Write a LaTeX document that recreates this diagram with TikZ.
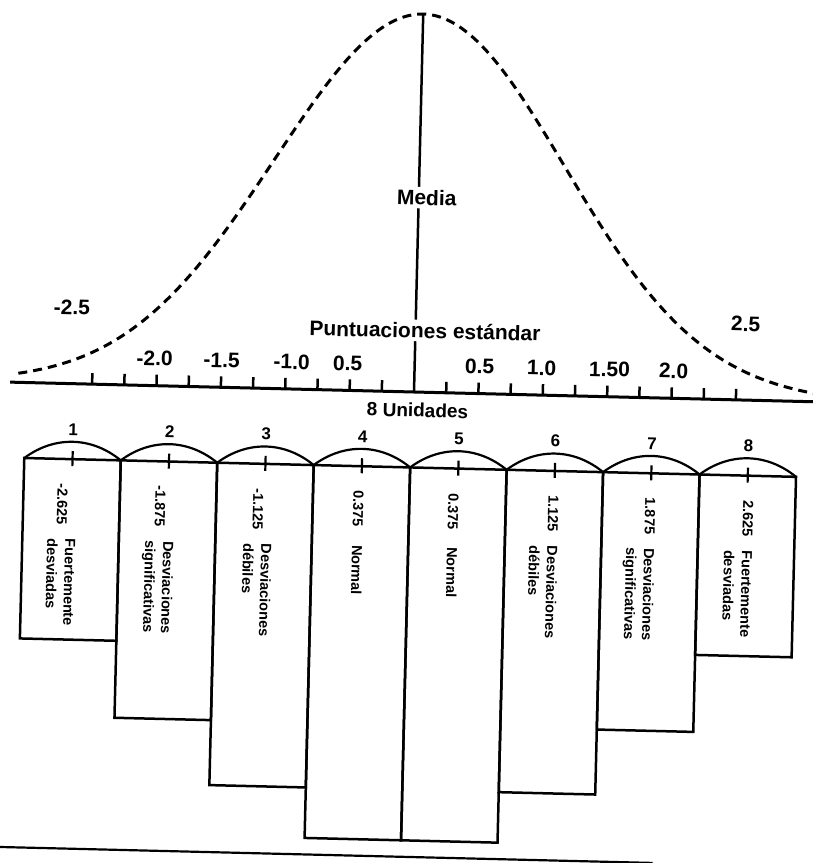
\documentclass[tikz,border=0pt]{standalone}
\usepackage{fontspec}
\setmainfont{Liberation Sans}
\usetikzlibrary{positioning}

\begin{document}
\begin{tikzpicture}[x=1pt, y=1pt]

\useasboundingbox (-414,-471) rectangle (399,392);
\tikzset{box/.style = {draw, line width=2.5pt, minimum width=96.5pt, inner sep=0pt, outer sep=0pt, anchor=north west}}
\tikzset{txt/.style = {rotate=-90, anchor=base west, inner sep=0pt, font=\fontsize{14.5}{18}\selectfont\bfseries}}
\tikzset{num/.style = {font=\fontsize{17}{20}\selectfont\bfseries, inner sep=0pt}}
\tikzset{lab/.style = {font=\fontsize{21}{25}\selectfont\bfseries, inner sep=1pt, anchor=base}}

\begin{scope}[rotate=-1.4, transform shape]
%curve
\coordinate (o) at (0,0);
\coordinate (top) at (0,378);
\coordinate (axl) at (-404,0);
\coordinate (axr) at (399,0);
\draw[line width=3pt, dash pattern=on 9pt off 6pt] plot[domain=-396:400, samples=120, smooth] (\x, {378*exp(-(\x/145)*(\x/145)/2)});
\draw[line width=2.5pt] (o) -- (top);
\node[lab, fill=white, inner sep=3pt] (media) at (8,187) {Media};
\node[lab, fill=white, inner sep=3pt] (punt) at (9.5,54) {Puntuaciones estándar};
\node[lab] (lo) at (-344,69) {-2.5};
\node[lab] (hi) at (330,69) {2.5};
%axis
\draw[line width=3pt] (axl) -- (axr);
\foreach \k in {1,...,10} {
  \draw[line width=2.5pt] (\k*32.2,0) -- ++(0,11);
  \draw[line width=2.5pt] (-\k*32.2,0) -- ++(0,11);
}
\node[lab] (s1) at (-260,20) {-2.0};
\node[lab] (s2) at (-193,20) {-1.5};
\node[lab] (s3) at (-123,20) {-1.0};
\node[lab] (s4) at (-67,20) {0.5};
\node[lab] (s5) at (65,20) {0.5};
\node[lab] (s6) at (127,20) {1.0};
\node[lab] (s7) at (195,20) {1.50};
\node[lab] (s8) at (259,20) {2.0};
\node[num, font=\fontsize{19}{22}\selectfont\bfseries, anchor=base] (units) at (4,-25) {8 Unidades};
%boxes
\node[box, minimum height=180.5pt] (b1) at (-388,-75.5) {};
\node[box, minimum height=257.5pt] (b2) at (-291.5,-75.5) {};
\node[box, minimum height=322.5pt] (b3) at (-195,-75.5) {};
\node[box, minimum height=373pt] (b4) at (-98.5,-75.5) {};
\node[box, minimum height=373pt] (b5) at (-2,-75.5) {};
\node[box, minimum height=322.5pt] (b6) at (94.5,-75.5) {};
\node[box, minimum height=257.5pt] (b7) at (191,-75.5) {};
\node[box, minimum height=180.5pt] (b8) at (287.5,-75.5) {};
\foreach \i in {1,...,8} {
  \draw[line width=2.2pt] (b\i.north west) to[bend left=38] (b\i.north east);
  \draw[line width=2.2pt] ([yshift=8pt]b\i.north) -- ([yshift=-7pt]b\i.north);
  \node[num, above=23.5pt of b\i.north] (n\i) {\i};
}
%box texts
\node[txt] (t1) at (-354,-100) {-2.625\hspace{14pt}\begin{tabular}{@{}l@{}}Fuertemente\\desviadas\end{tabular}};
\node[txt] (t2) at (-256,-100) {-1.875\hspace{14pt}\begin{tabular}{@{}l@{}}Desviaciones\\significativas\end{tabular}};
\node[txt] (t3) at (-158,-100) {-1.125\hspace{14pt}\begin{tabular}{@{}l@{}}Desviaciones\\débiles\end{tabular}};
\node[txt] (t4) at (-58,-100) {0.375\hspace{18pt}Normal};
\node[txt] (t5) at (37,-100) {0.375\hspace{18pt}Normal};
\node[txt] (t6) at (137,-100) {1.125\hspace{14pt}\begin{tabular}[t]{@{}l@{}}Desviaciones\\débiles\end{tabular}};
\node[txt] (t7) at (234,-100) {1.875\hspace{14pt}\begin{tabular}[t]{@{}l@{}}Desviaciones\\significativas\end{tabular}};
\node[txt] (t8) at (332,-100) {2.625\hspace{14pt}\begin{tabular}[t]{@{}l@{}}Fuertemente\\desviadas\end{tabular}};
%bottom rule
\coordinate (bl) at (-414,-465);
\coordinate (br) at (250,-465);
\draw[line width=2.2pt] (bl) -- (br);
\end{scope}

\end{tikzpicture}
\end{document}
